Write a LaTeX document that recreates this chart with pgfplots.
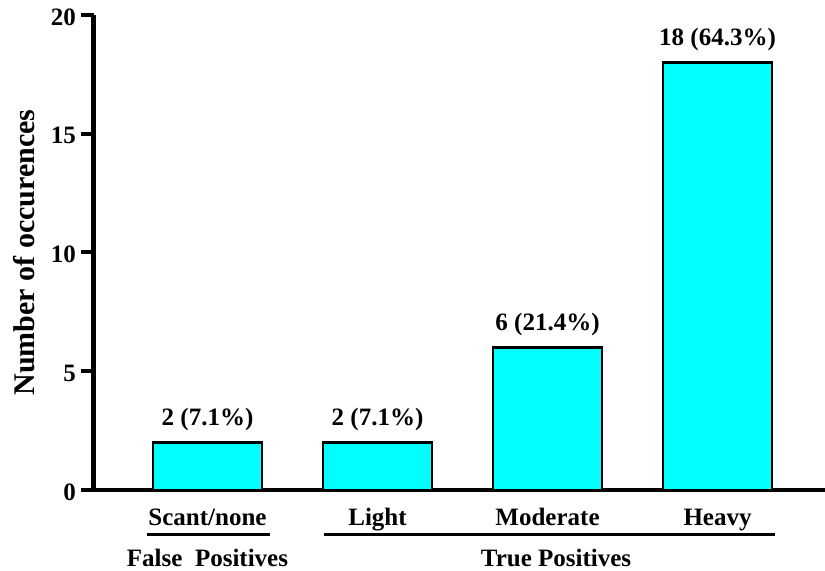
\documentclass[border=0pt]{standalone}
\usepackage{fontspec}
\setmainfont{Liberation Serif}
\usepackage{pgfplots}
\pgfplotsset{compat=1.18}
\definecolor{barcyan}{RGB}{0,255,255}
\newcommand{\lblfont}{\fontsize{25bp}{29bp}\selectfont\bfseries}
\newcommand{\ylfont}{\fontsize{30bp}{34bp}\selectfont\bfseries}
\begin{document}
\begin{tikzpicture}
\path[use as bounding box] (0,0) rectangle (825bp,571bp);
\begin{axis}[
  at={(93.5bp,81bp)}, anchor=south west,
  scale only axis, width=731.5bp, height=475bp,
  xmin=-0.6706, xmax=3.632, ymin=0, ymax=20,
  clip=false,
  axis x line=bottom, axis y line=left,
  axis line style={line width=4.5bp, -},
  xtick=\empty,
  ytick={0,5,10,15,20},
  tick align=outside, major tick length=12bp,
  ytick style={line width=4bp, black},
  /pgf/number format/assume math mode=true,
  yticklabel style={font=\lblfont, xshift=-2bp, yshift=-2bp},
  ylabel={Number of occurences},
  every axis y label/.style={at={(axis description cs:0,0.5)}, xshift=-69bp, rotate=90, anchor=center, font=\ylfont},
]
\addplot[ybar, bar width=109bp, fill=barcyan, draw=black, line width=2.5bp,
  nodes near coords, point meta=explicit symbolic,
  every node near coord/.append style={font=\lblfont, anchor=base, yshift=17bp, inner sep=0pt}]
  coordinates {(0,2) [2 (7.1\%)] (1,2) [2 (7.1\%)] (2,6) [6 (21.4\%)] (3,18) [18 (64.3\%)]};
% category labels
\node[font=\lblfont, anchor=base] at ([yshift=-35bp]axis cs:0,0) {Scant/none};
\node[font=\lblfont, anchor=base] at ([yshift=-35bp]axis cs:1,0) {Light};
\node[font=\lblfont, anchor=base] at ([yshift=-35bp]axis cs:2,0) {Moderate};
\node[font=\lblfont, anchor=base] at ([yshift=-35bp]axis cs:3,0) {Heavy};
% group underlines
\draw[line width=3bp] ([yshift=-44.5bp]axis cs:-0.356,0) -- ([yshift=-44.5bp]axis cs:0.368,0);
\draw[line width=3bp] ([yshift=-44.5bp]axis cs:0.685,0) -- ([yshift=-44.5bp]axis cs:3.338,0);
% group labels
\node[font=\lblfont, anchor=base] at ([yshift=-76bp]axis cs:0,0) {False\ \ Positives};
\node[font=\lblfont, anchor=base] at ([yshift=-76bp]axis cs:2.05,0) {True Positives};
\end{axis}
\end{tikzpicture}
\end{document}
